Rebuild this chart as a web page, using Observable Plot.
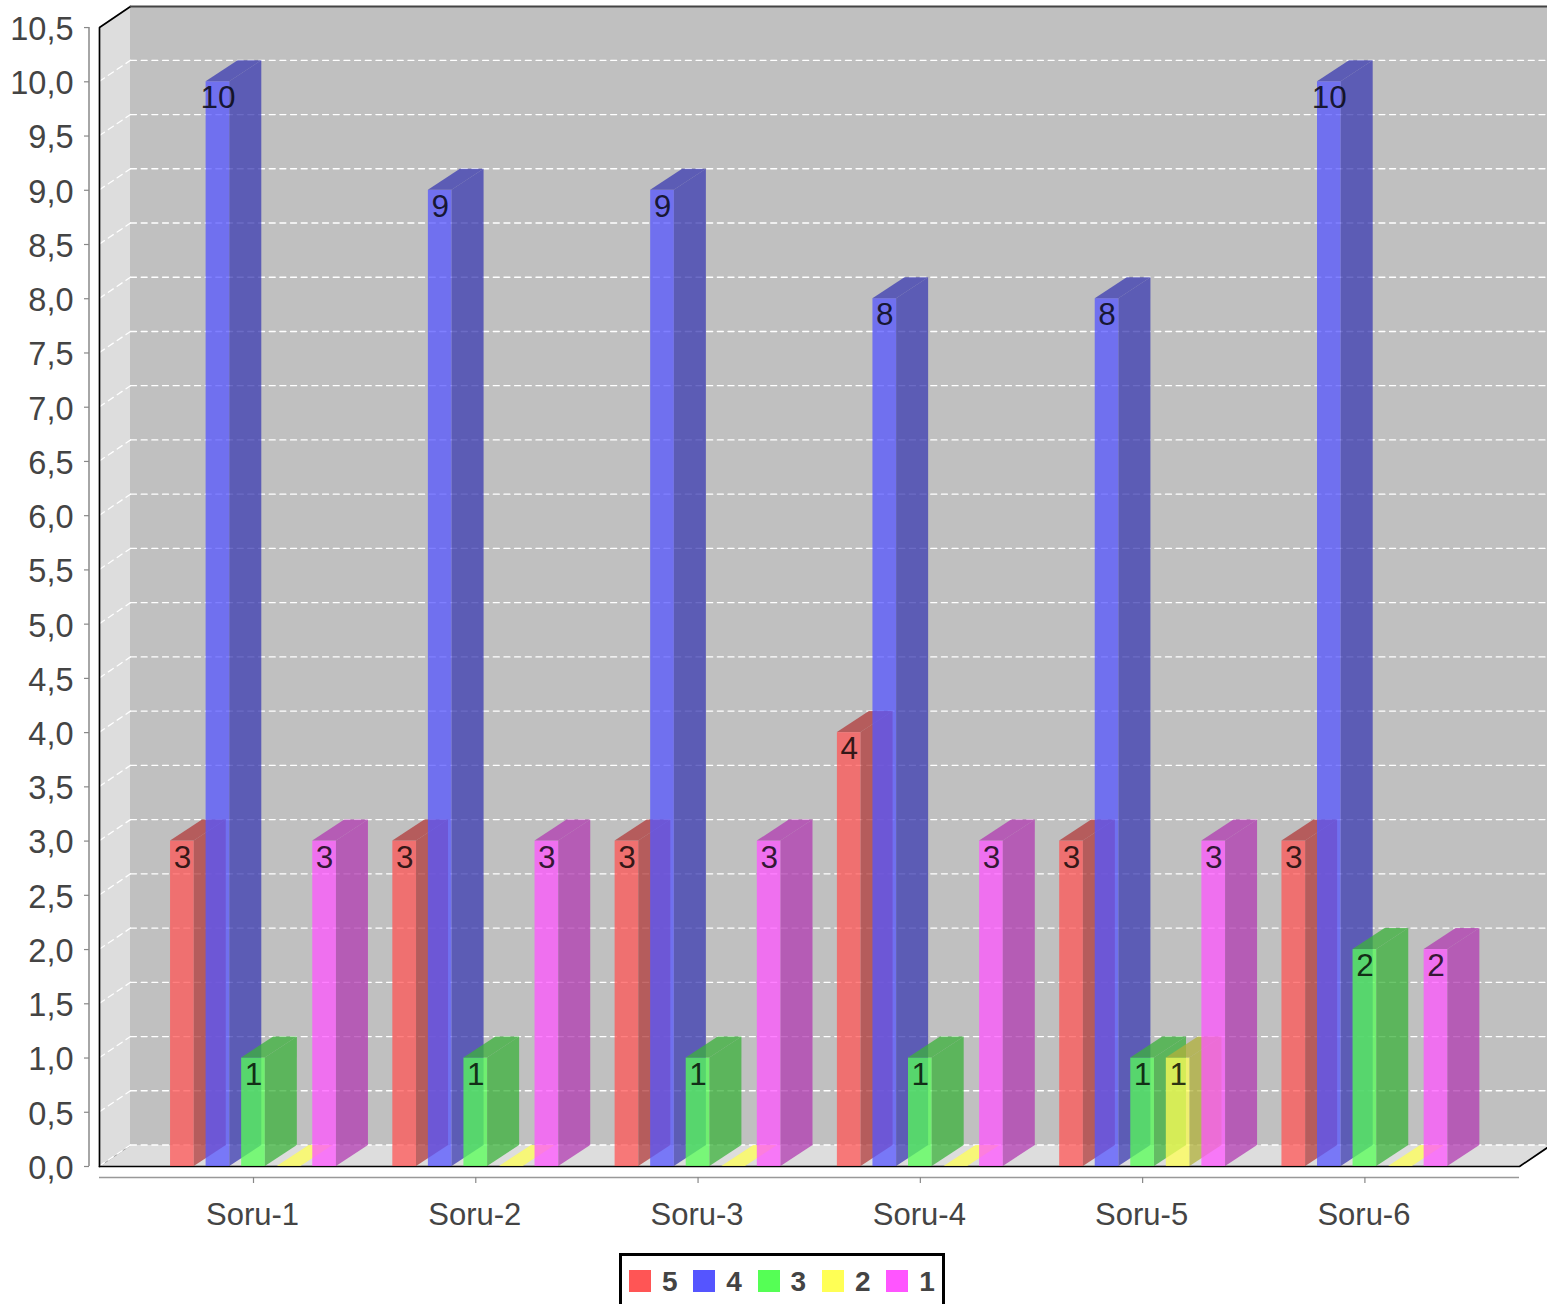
<!DOCTYPE html>
<html>
<head>
<meta charset="utf-8">
<script src="https://cdn.jsdelivr.net/npm/d3@7"></script>
<script src="https://cdn.jsdelivr.net/npm/@observablehq/plot@0.6"></script>
<style>
html,body{margin:0;padding:0;background:#fff;overflow:hidden;height:1304px;}
#chart svg{display:block;max-width:none;}
#legend{position:absolute;left:619px;top:1253px;width:326px;height:56px;box-sizing:border-box;border:3px solid #000;background:#fff;display:flex;align-items:center;padding-left:7px;font:bold 28px "Liberation Sans",Arial,sans-serif;color:#444;}
#legend .item{display:flex;align-items:center;width:64.3px;flex:none;height:22px;}
#legend .sw{width:22px;height:22px;margin-right:11px;flex:none;}
#legend .lb{position:relative;top:1px;}
</style>
</head>
<body>
<div id="chart"></div>
<div id="legend"></div>
<script>
const categories = ["Soru-1","Soru-2","Soru-3","Soru-4","Soru-5","Soru-6"];
const seriesNames = ["5","4","3","2","1"];
const series5 = [3,3,3,4,3,3];
const series4 = [10,9,9,8,8,10];
const series3 = [1,1,1,1,1,2];
const series2 = [0,0,0,0,1,0];
const series1 = [3,3,3,3,3,2];
const seriesValues = [series5,series4,series3,series2,series1];
const frontColors = ["#FF5555","#5555FF","#55FF55","#FFFF55","#FF55FF"];
const sideColors  = ["#B23B3B","#3B3BB2","#3BB23B","#B2B23B","#B23BB2"];
const yTicks = d3.range(0,21).map(d=>d/2).concat([10.5]);
const gridValues = d3.range(0,21).map(d=>d/2);
const yMax = 10.5;

// Geometry in data units (one x unit = one category, one y unit = one value unit)
const pxX = 222.28, pxY = 108.47;
const depthX = 31/pxX, depthY = 21/pxY;
const barDepthX = 32/pxX;
const barW = 23.7/pxX, barStep = 35.55/pxX;
const left = -154/pxX, right = 1266/pxX;
const axisLeft = -164.5/pxX;
const axisBottom = -11/pxY;
const op = 0.75;

const bars = seriesValues.map((vals,s)=>vals.map((v,c)=>{
  const x = c + (s-2)*barStep - barW/2;
  return {s,c,v,x,x2:x+barW,id:`${s}-${c}`};
}));

const sideFace = b => [
  {id:b.id,x1:b.x2,x2:b.x2,y1:0,y2:b.v},
  {id:b.id,x1:b.x2+barDepthX,x2:b.x2+barDepthX,y1:depthY,y2:b.v+depthY}
];
const topFace = b => [
  {id:b.id,x1:b.x,x2:b.x2,y1:b.v,y2:b.v},
  {id:b.id,x1:b.x+barDepthX,x2:b.x2+barDepthX,y1:b.v+depthY,y2:b.v+depthY}
];
const areaOpts = {x1:"x1",x2:"x2",y1:"y1",y2:"y2",z:"id",curve:"linear"};

const marks = [];
// back wall
marks.push(Plot.rect([{}],{x1:left+depthX,x2:right+depthX,y1:depthY,y2:yMax+depthY,fill:"#C0C0C0"}));
// left wall
marks.push(Plot.area([
  {x1:left,x2:left,y1:0,y2:yMax},
  {x1:left+depthX,x2:left+depthX,y1:depthY,y2:yMax+depthY}
],{...areaOpts,z:null,fill:"#DDDDDD"}));
// floor
marks.push(Plot.area([
  {x1:left,x2:right,y1:0,y2:0},
  {x1:left+depthX,x2:right+depthX,y1:depthY,y2:depthY}
],{...areaOpts,z:null,fill:"#DDDDDD"}));
// gridlines on wall and back
const gridStyle = {stroke:"#fff",strokeWidth:1.3,strokeDasharray:"6,4.67",dy:-0.5};
marks.push(Plot.line([{x:left,y:0},{x:left+depthX,y:depthY}],{x:"x",y:"y",stroke:"#999",strokeWidth:0.8}));
gridValues.forEach(g=>{
  marks.push(Plot.line([{x:left,y:g},{x:left+depthX,y:g+depthY}],{x:"x",y:"y",...gridStyle}));
  marks.push(Plot.line([{x:left+depthX,y:g+depthY},{x:right+depthX,y:g+depthY}],{x:"x",y:"y",...gridStyle}));
});
// frame edges
const edges = [
  [[left,0],[left,yMax],[left+depthX,yMax+depthY]],
  [[left,0],[right,0],[right+depthX,depthY]]
];
edges.forEach(e=>marks.push(Plot.line(e,{x:d=>d[0],y:d=>d[1],stroke:"#000",strokeWidth:1.7,strokeLinejoin:"miter"})));
marks.push(Plot.line([[left+depthX,yMax+depthY],[right+depthX,yMax+depthY]],{x:d=>d[0],y:d=>d[1],stroke:"#444",strokeWidth:2}));

// bars
bars.forEach((row,s)=>{
  marks.push(Plot.rect(row.filter(b=>b.v>0),{x1:"x",x2:"x2",y1:0,y2:"v",fill:frontColors[s],fillOpacity:op}));
  marks.push(Plot.area(row.filter(b=>b.v>0).flatMap(sideFace),{...areaOpts,fill:sideColors[s],fillOpacity:op}));
  marks.push(Plot.area(row.filter(b=>b.v>0).flatMap(topFace),{...areaOpts,fill:sideColors[s],fillOpacity:op}));
  // a bar of zero height shows only its base, in the front colour
  marks.push(Plot.area(row.filter(b=>b.v===0).flatMap(topFace),{...areaOpts,fill:frontColors[s],fillOpacity:op}));
});
// item labels
bars.forEach(row=>{
  marks.push(Plot.text(row.filter(b=>b.v>0),{
    x:b=>(b.x+b.x2)/2,y:"v",text:b=>String(b.v),dy:16.5,
    fontSize:31.5,fill:"#000",fillOpacity:0.8,textAnchor:"middle",lineAnchor:"middle"
  }));
});
// axes
marks.push(Plot.ruleX([axisLeft],{y1:0,y2:yMax,stroke:"#888",strokeWidth:1.5}));
marks.push(Plot.ruleY([axisBottom],{x1:left,x2:right,stroke:"#999",strokeWidth:1.5}));
marks.push(Plot.axisY({anchor:"left",ticks:yTicks,tickSize:5,text:null,label:null,stroke:"#888",strokeWidth:1.2}));
marks.push(Plot.axisY({
  anchor:"left",ticks:yTicks,tickSize:0,tickPadding:16,label:null,dy:2,
  tickFormat:d=>d.toFixed(1).replace(".",","),
  fontSize:32.5,fill:"#444"
}));
marks.push(Plot.axisX({anchor:"bottom",ticks:d3.range(categories.length),tickSize:6,text:null,label:null,stroke:"#888",strokeWidth:1.2}));
marks.push(Plot.axisX({
  anchor:"bottom",ticks:d3.range(categories.length),tickSize:0,tickPadding:25,label:null,dx:-1,
  tickFormat:i=>categories[i],
  fontSize:31,fill:"#444"
}));

const chart = Plot.plot({
  width:1547,height:1250,
  marginLeft:89,marginRight:0,marginTop:0,marginBottom:73,
  style:{background:"transparent",fontFamily:"'Liberation Sans',Arial,sans-serif"},
  x:{type:"linear",domain:[0,categories.length-1],range:[253,253+5*pxX]},
  y:{type:"linear",domain:[0,yMax],range:[1166,1166-yMax*pxY]},
  marks
});
document.getElementById("chart").append(chart);

const legend = document.getElementById("legend");
seriesNames.forEach((n,i)=>{
  const it=document.createElement("div");it.className="item";
  const sw=document.createElement("span");sw.className="sw";sw.style.background=frontColors[i];
  const t=document.createElement("span");t.className="lb";t.textContent=n;
  it.append(sw,t);legend.append(it);
});
</script>
</body>
</html>
